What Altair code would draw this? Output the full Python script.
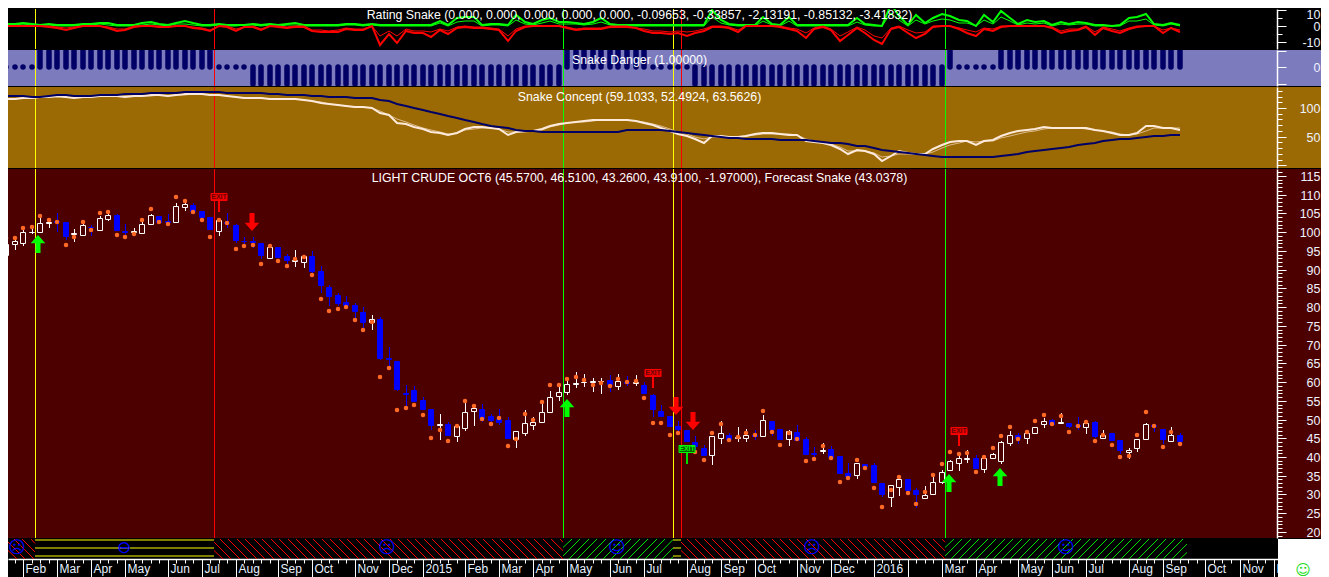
import json
import altair as alt
import pandas as pd

OPEN = [93.9,96.9,97.2,100.0,100.1,102.4,102.9,102.6,99.5,99.3,
101.5,100.7,103.6,104.7,100.3,100.0,99.9,102.2,104.2,102.9,
102.8,106.8,107.3,105.6,104.1,100.4,102.7,101.9,97.7,97.7,
97.1,93.2,96.0,93.6,92.3,92.1,93.6,89.6,85.4,83.2,
81.4,80.7,78.7,76.1,76.8,66.3,65.6,57.0,57.8,55.2,
52.8,48.5,48.7,45.5,47.7,52.4,52.8,50.9,50.1,49.8,
44.9,46.5,48.6,49.4,52.0,56.3,57.4,59.4,59.9,60.1,
60.2,60.5,59.0,60.0,59.7,59.2,56.5,52.3,50.9,48.2,
47.1,43.9,42.3,40.6,45.2,46.0,45.2,45.2,45.8,45.7,
49.6,47.4,44.9,46.6,44.8,41.0,41.7,42.1,40.2,35.7,
35.1,38.0,37.9,33.1,29.4,32.1,34.1,31.1,29.1,30.0,
33.2,36.4,38.5,39.5,39.7,36.9,39.8,39.0,43.8,46.0,
45.2,46.5,48.7,49.9,49.1,49.0,48.5,47.9,49.3,45.1,
46.3,44.5,41.3,42.3,44.9,48.5,47.5,44.4,45.9]
CLOSE = [96.8,97.6,100.0,100.1,102.4,102.6,102.7,99.0,99.7,101.8,
101.3,103.9,104.5,100.6,100.1,100.2,102.1,104.5,102.8,102.7,
106.9,107.4,105.7,104.1,100.8,103.2,102.5,98.0,97.6,97.5,
94.0,96.0,93.4,92.6,92.5,93.6,89.6,86.0,83.0,81.2,
80.6,79.1,76.0,76.7,66.4,66.1,58.2,56.7,55.0,52.9,
48.6,48.7,45.9,48.4,51.9,53.0,50.4,49.8,49.4,45.1,
46.9,49.0,49.3,51.9,55.9,57.3,59.4,59.7,60.0,60.3,
60.4,59.4,60.2,59.8,59.9,57.1,52.9,50.9,48.3,47.6,
44.3,42.9,40.6,45.5,46.3,44.9,45.3,45.8,45.6,50.0,
47.6,44.9,46.9,44.5,40.8,40.8,41.9,40.1,35.8,34.9,
38.3,37.5,33.3,30.0,32.4,34.1,31.2,30.0,29.8,33.2,
36.1,38.9,39.6,39.7,37.0,39.8,40.7,43.9,46.0,45.0,
46.3,48.0,49.5,48.8,49.3,48.3,48.2,49.1,45.6,46.0,
44.5,41.9,42.0,44.7,48.7,48.2,44.9,46.0,44.4]
HIGH = [96.8,98.1,100.5,101.2,103.9,103.4,105.1,102.6,100.9,102.8,
101.8,104.3,104.9,104.8,102.1,101.2,102.8,104.9,104.3,104.8,
107.7,107.7,107.8,105.6,104.1,103.6,105.1,102.1,98.7,98.7,
97.1,96.3,96.0,94.1,95.2,93.6,95.0,90.9,85.8,83.9,
83.0,81.1,80.1,77.9,77.4,69.4,65.6,59.2,59.0,56.0,
52.8,51.6,49.3,48.4,54.5,54.1,54.1,51.4,52.8,50.8,
46.9,52.5,50.7,54.6,57.6,58.8,60.7,62.7,62.2,61.1,
61.1,61.9,62.1,61.5,61.9,59.9,56.9,53.8,50.9,49.6,
47.1,45.6,43.2,45.5,49.6,46.5,48.0,47.4,47.3,51.2,
49.6,47.4,47.3,48.5,45.3,42.7,43.7,42.9,40.2,38.4,
38.3,38.0,38.5,33.1,32.4,34.5,34.1,31.6,32.3,34.8,
36.4,39.1,41.4,42.0,40.5,40.0,41.1,44.3,46.9,46.4,
46.9,48.0,50.3,50.2,51.7,49.0,50.7,50.0,49.5,47.1,
46.3,44.5,42.3,44.9,49.0,48.6,47.5,48.0,46.5]
LOW = [93.6,95.3,96.4,99.4,99.9,101.2,100.1,97.8,97.5,99.0,
99.0,100.3,103.0,100.3,98.3,99.4,99.9,101.9,102.5,102.1,
102.8,105.6,105.6,103.9,100.8,99.0,101.2,97.2,96.6,95.7,
92.8,93.2,93.0,91.1,90.7,90.5,88.8,83.9,80.3,80.3,
80.1,77.0,74.3,74.0,65.9,63.9,57.6,53.6,54.8,52.5,
47.2,44.5,45.6,44.0,47.0,48.3,49.4,49.2,48.5,45.1,
42.4,45.6,47.2,49.4,51.7,55.0,56.6,58.4,58.7,57.4,
56.9,57.4,57.9,59.0,59.0,56.9,50.8,50.8,48.3,45.9,
44.1,41.6,40.4,37.9,43.6,44.8,44.1,44.1,44.5,45.7,
45.6,44.9,42.9,44.5,40.8,39.6,40.9,39.8,35.8,34.7,
34.1,37.1,33.0,29.4,26.7,29.6,31.2,26.5,29.1,30.0,
32.7,36.3,36.3,38.5,37.0,35.6,39.8,38.2,43.0,43.6,
43.6,46.5,47.8,48.5,49.0,47.8,47.1,46.2,45.2,44.9,
44.5,40.9,39.4,41.4,44.9,46.8,43.4,44.4,44.4]
FORECAST = [98.4,98.4,101.2,101.5,104.2,103.2,102.8,96.5,98.7,102.8,
100.5,105.2,105.5,99.2,98.6,99.4,103.3,106.1,102.8,102.3,
109.3,108.2,105.3,103.2,98.6,103.3,102.5,95.4,96.3,96.6,
91.4,96.2,92.2,90.9,92.8,93.5,88.5,82.3,78.9,79.4,
80.0,76.5,73.8,76.0,61.3,63.7,52.6,53.2,53.8,51.3,
45.0,47.1,44.2,48.2,54.9,53.5,50.2,48.7,50.5,42.9,
44.7,51.6,50.0,54.6,59.1,59.1,60.7,61.4,60.5,59.1,
59.7,58.9,60.7,59.9,60.2,55.7,49.1,49.1,46.0,46.3,
42.0,41.3,39.1,46.3,48.8,44.5,45.4,46.4,45.8,52.4,
46.7,43.1,46.3,44.7,38.9,39.4,42.9,39.8,33.2,34.3,
39.1,37.1,31.6,26.6,31.1,34.7,30.3,27.4,30.7,35.3,
38.2,41.3,40.7,41.0,35.9,39.9,42.3,45.5,48.0,44.7,
46.6,49.5,51.1,48.7,50.9,46.6,48.3,49.3,44.2,45.8,
43.1,39.9,40.4,45.8,51.9,48.3,42.6,46.6,43.4]

GREEN_MAIN = [1.0,1.5,2.1,1.5,0.6,1.0,0.6,0.4,0.6,1.0,
1.5,2.1,1.7,0.4,0.6,0.6,1.7,2.3,1.0,0.6,
2.1,2.9,1.7,0.6,0.6,1.5,0.6,0.6,0.8,1.0,
0.6,1.5,0.6,1.0,1.7,0.6,0.6,0.6,0.6,0.6,
1.0,1.2,0.6,1.5,0.6,0.6,0.6,0.6,0.6,0.6,
0.6,3.0,0.6,5.2,5.6,5.8,0.6,1.5,1.5,0.6,
6.9,2.7,1.0,3.5,5.2,2.7,2.7,2.1,1.0,2.7,
4.8,1.0,0.6,0.4,0.4,0.4,0.4,0.4,0.4,0.4,
0.4,0.4,0.4,9.8,3.5,1.5,0.6,0.6,0.6,5.6,
1.0,0.6,5.6,0.6,0.6,0.4,0.4,0.4,0.4,0.6,
4.8,1.5,0.6,0.0,13.5,6.2,0.6,6.9,2.1,5.2,
7.7,6.2,3.5,3.1,0.0,6.9,2.7,9.4,5.2,1.0,
3.5,2.7,3.1,0.6,2.7,1.5,2.3,1.9,0.6,0.6,
0.0,0.6,5.2,5.8,7.3,1.5,0.6,2.1,0.6]
RED_MAIN = [-0.2,-0.2,-0.2,-0.2,-0.2,-0.4,-1.0,-2.5,-1.0,-0.2,
-0.2,-0.2,-1.5,-3.0,-2.7,-0.6,-0.2,-0.2,-0.6,-0.6,
-0.2,-0.2,-1.0,-1.7,-3.0,-0.2,-0.6,-3.0,-0.6,-0.4,
-2.5,-0.2,-0.6,-1.5,-0.4,-0.4,-3.0,-3.8,-3.8,-3.5,
-2.1,-2.7,-2.7,-0.2,-12.0,-4.8,-10.8,-3.0,-4.2,-4.6,
-6.7,-2.7,-5.2,-1.0,-0.6,-1.0,-1.0,-2.1,-2.5,-9.4,
-3.1,-0.6,0,0,0,0,-1.0,-2.7,-2.1,-2.1,
-1.7,-0.6,-0.4,-0.6,-1.5,-3.0,-4.6,-4.6,-5.2,-4.6,
-6.2,-4.2,-3.0,-0.6,-0.6,-1.0,-3.5,-0.2,-0.2,-0.2,
-0.2,-0.4,-2.1,-3.1,-7.3,-2.1,-0.6,-2.5,-9.4,-5.5,
-1.0,-4.5,-9.0,-11.5,-2.1,-0.6,-4.2,-7.3,-5.2,-0.6,
0,-0.2,-2.1,-4.2,-6.2,-2.1,-3.0,-0.6,0,-0.2,
-0.2,0.2,-0.2,-1.0,-4.6,-3.0,-2.7,-0.6,-5.8,-1.0,
-3.0,-4.6,-2.1,-0.6,-0.2,-0.2,-4.2,-1.5,-3.7]
RED_THIN = [-.1,-.1,-.1,-.1,-.1,-.2,-.5,-1.5,-.6,-.1,
-.1,-.1,-.9,-2.0,-1.8,-.3,-.1,-.1,-.3,-.4,
-.1,-.1,-.5,-1.1,-2.2,-.1,-.3,-2.0,-.4,-.2,
-1.6,-.1,-.3,-.9,-.2,-.2,-2.2,-2.8,-2.9,-2.6,
-1.5,-2,-1.9,-.1,-6.5,-3,-6,-2,-3,-3.2,
-4,-1.8,-3.2,-.6,-.3,-.5,-.6,-1.4,-1.6,-6.2,
-2,-.3,0,0,0,0,-.6,-1.8,-1.3,-1.4,
-1,-.3,-.2,-.3,-1,-2,-3.2,-3.3,-3.8,-3.2,
-4,-3,-2,-.3,-.3,-.5,-2.2,-.1,-.1,-.1,
-.1,-.2,-1.3,-2,-4.5,-1.3,-.3,-1.6,-6,-3.5,
-.6,-2.8,-6,-7.5,-1.4,-.3,-2.6,-4.5,-3.5,-.3,
0,-.1,-1.3,-2.6,-3.8,-1.3,-1.9,-.3,0,-.1,
-.1,0,-.1,-.6,-2.9,-2,-1.8,-.3,-3.6,-.6,
-2,-3,-1.3,-.3,-.1,-.1,-2.6,-1,-2.2]
GREEN_THIN = [.5,.8,1.1,.8,.3,.5,.3,.2,.3,.5,
.8,1.1,.9,.2,.3,.3,.9,1.2,.5,.3,
1.1,1.5,.9,.3,.3,.8,.3,.3,.4,.5,
.3,.8,.3,.5,.9,.3,.3,.3,.3,.3,
.5,.6,.3,.8,.3,.3,.3,.3,.3,.3,
.3,1.6,.3,2.8,3,3.2,.3,.8,.8,.3,
4,1.5,.5,2,3,1.5,1.5,1.1,.5,1.5,
2.8,.5,.3,.2,.2,.2,.2,.2,.2,.2,
.2,.2,.2,5.5,2,.8,.3,.3,.3,3.2,
.5,.3,3.2,.3,.3,.2,.2,.2,.2,.3,
2.8,.8,.3,0,8,3.5,.3,4,1.1,3,
4.5,3.5,2,1.8,0,4,1.5,5.5,3,.5,
2,1.5,1.8,.3,1.5,.8,1.3,1,.3,.3,
0,.3,3,3.4,4.3,.8,.3,1.1,.3]

DANGER = [0]*4 + [1]*21 + [0]*4 + [-1]*37 + [1]*10 + [0]*5 + [-1]*30 + [1] + [0]*5 + [1]*22

CONCEPT_FAST = [115.1,116.3,116.8,118.0,119.2,119.7,120.3,118.6,118.0,118.6,
119.2,120.9,121.5,120.9,119.7,120.3,120.9,122.1,122.1,121.5,
122.7,123.8,125.0,123.8,122.7,122.1,120.9,118.6,117.4,117.4,
116.8,116.3,115.1,115.7,115.7,113.9,111.6,108.7,106.4,104.6,
102.9,102.3,101.1,100.6,91.8,87.8,73.2,71.5,66.8,62.7,
58.1,55.8,52.9,56.3,62.7,66.8,66.2,65.6,62.7,52.3,
58.7,59.3,59.8,63.3,68.6,72.0,74.4,76.1,76.7,78.4,
79.0,79.0,79.0,79.0,76.7,73.8,69.7,65.6,59.8,54.0,
51.1,45.9,39.5,51.1,50.5,49.4,48.8,51.7,55.2,55.8,
55.8,54.6,52.9,52.3,41.8,40.6,38.9,35.4,27.8,20.3,
26.7,25.5,19.1,7.5,16.2,24.9,20.9,20.3,20.3,27.8,
35.4,40.0,42.4,42.4,35.4,42.4,43.5,51.7,56.9,59.3,
61.0,63.3,66.8,65.6,64.5,64.5,64.5,64.5,61.0,59.3,
55.8,52.3,52.9,56.9,68.6,68.6,65.1,64.5,61.0]
CONCEPT_MID = [115.5,116,117,118,119,119.5,120,119.5,118.5,118.5,
119,120.5,121,121,120.5,120.3,120.7,121.5,122,121.7,
122.3,123.4,124.5,124,123,122.3,121.2,119.5,118,117.5,
117,116.5,115.6,115.7,115.8,114.5,112.5,110,107.5,105.5,
103.5,102.5,101.5,100.8,94,88,81.4,75,70.9,65.6,
61,58,54,55.8,61,63.9,65,65,63.9,58,
57.5,58,59.3,62.2,66.2,70.3,73.2,75,76.1,77.9,
78.4,79,79,78.4,77.9,75.5,72,68.6,63.3,58,
54.6,49.4,45.9,49.4,50,50,49.4,51.1,53.4,54.6,
55.2,54.6,54,52.9,46.5,43,40,37.7,31.9,24.9,
25.5,25.5,22,14.5,15.6,19.1,19.7,20.3,20.3,23.8,
29.6,35.4,39.5,41.8,41.2,41.8,42.4,47,51.7,55.2,
57.5,59.8,63.3,64.5,64.5,64.5,64.5,63.9,62.2,59.8,
57.5,54.6,53.4,55.2,59.8,65.1,65.6,65.6,64.5]
CONCEPT_SLOW = [120.9,120.9,120.3,119.7,119.7,121.5,122.7,122.1,121.5,121.5,
121.5,122.1,122.7,123.2,123.8,124.4,125.0,125.6,126.2,126.7,
126.7,127.3,128.5,128.5,127.3,127.3,126.7,126.7,126.7,126.7,
126.2,125.0,123.8,123.2,122.7,122.7,121.5,120.3,119.7,119.2,
118.6,118.0,117.4,116.8,114.5,112.2,107.5,104.0,100.6,97.1,
93.0,88.9,85.4,81.9,79.6,76.1,72.6,68.6,66.2,64.5,
62.2,59.8,59.3,58.7,58.7,58.7,58.7,58.7,58.7,58.7,
58.7,58.7,58.7,61.0,62.2,62.2,62.2,61.6,60.4,58.7,
56.9,54.0,52.3,50.5,49.4,48.2,47.0,46.5,45.9,45.3,
45.3,44.7,44.7,44.7,44.1,42.4,40.6,39.5,38.3,36.6,
34.2,33.1,30.2,27.3,24.4,22.6,20.9,19.1,17.4,15.6,
15,15,15,15,15,15,15,15.6,18.0,20.3,
22.6,24.4,26.7,28.4,30.7,32.5,34.8,36.6,38.9,41.8,
44.1,45.9,46.5,47.0,48.8,50.5,51.7,52.9,53.4]

TITLE_RATING = "Rating Snake (0.000, 0.000, 0.000, 0.000, 0.000, -0.09653, -0.33857, -2.13191, -0.85132, -3.41832)"
TITLE_DANGER = "Snake Danger (1.00000)"
TITLE_CONCEPT = "Snake Concept (59.1033, 52.4924, 63.5626)"
TITLE_PRICE = "LIGHT CRUDE OCT6 (45.5700, 46.5100, 43.2600, 43.9100, -1.97000), Forecast Snake (43.0378)"

VLINE_X = [3.409, 24.451, 65.476, 78.407, 79.347, 110.381]
VLINE_COLOR = ["#ffff00", "#ff0000", "#00ff00", "#ffff00", "#ff0000", "#00ff00"]

UP_ARROW_X = [3.8, 65.9, 110.8, 116.9]
UP_ARROW_Y = [96.9, 53.1, 33.1, 34.7]
DOWN_ARROW_X = [28.9, 78.8, 80.8]
DOWN_ARROW_Y = [102.8, 53.6, 49.6]

EXIT_X = [25, 76, 112, 80]
EXIT_Y = [109.4, 62.5, 46.9, 42.2]
EXIT_STEM_TOP = [108.6, 61.6, 46.1, 41.3]
EXIT_STEM_BOTTOM = [105.4, 58.4, 42.9, 38.1]
EXIT_STEM_COLOR = ["#ff0000", "#ff0000", "#ff0000", "#00dd00"]
EXIT_FILL = ["#ee0000", "#ee0000", "#ee0000", "#0b5a00"]
EXIT_STROKE = ["#ff0000", "#ff0000", "#ff0000", "#00ff00"]
EXIT_TEXT = ["#6a0000", "#6a0000", "#6a0000", "#00ff00"]

MONTH_TICKS = [2,6,10,14,19,23,27,32,36,41,45,49,54,58,62,66,71,75,80,84,88,93,97,102,106,110,114,119,123,127,132,136,141,145,149]
MONTH_LABELS = ["Feb","Mar","Apr","May","Jun","Jul","Aug","Sep","Oct","Nov","Dec","2015","Feb","Mar","Apr","May","Jun","Jul","Aug","Sep","Oct","Nov","Dec","2016","","Mar","Apr","May","Jun","Jul","Aug","Sep","Oct","Nov","D"]

# state ribbon along the bottom: (from bar, to bar, kind)
RIBBON = [(0.235,3.409,"red"),(3.409,24.451,"flat"),(24.451,65.476,"red"),(65.476,78.407,"green"),(78.407,79.347,"flat"),(79.347,110.381,"red"),(110.381,138.8,"green")]
FACE_X = [1.3, 13.9, 44.8, 71.8, 94.7, 124.6]
FACE_GLYPH = ["☹", "⊖", "☹", "☺", "☹", "☺"]

FONT = "Liberation Sans"
XDOM = [0.235, 154.58]
W = 1313
XSCALE = alt.Scale(domain=XDOM, nice=False, zero=False, padding=0, round=True)
AX_X = alt.X("i:Q", scale=XSCALE, axis=None, title=None)
idx = list(range(len(OPEN)))


def yaxis(values, major_test, label_expr, **kw):
    return alt.Axis(
        values=values, orient="right", offset=-44, title=None, grid=False,
        domainColor="#ffffff", tickColor="#ffffff", domainWidth=1.5, tickWidth=1,
        tickSize={"condition": {"test": major_test, "value": 9}, "value": 5},
        labelExpr=label_expr, labelColor="#eef2ff", labelFont=FONT, labelFontSize=12.5,
        labelAlign="right", labelPadding=34, labelOverlap=False, labelBound=False, labelFlush=False,
        **kw)


def vlines():
    d = pd.DataFrame({"i": VLINE_X, "c": VLINE_COLOR})
    return alt.Chart(d).mark_rule(strokeWidth=1, xOffset=0.5).encode(x=AX_X, color=alt.Color("c:N", scale=None))


def title_mark(text, y):
    d = pd.DataFrame({"t": [text]})
    return alt.Chart(d).mark_text(font=FONT, fontSize=12.35, color="#ffffff", align="center", baseline="middle").encode(
        text="t:N", x=alt.value(631.5), y=alt.value(y))


# ---- pane 1: Rating Snake
Y1 = alt.Scale(domain=[-14.375, 10.625], nice=False, zero=False, round=True)
ax1 = yaxis([-10, -5, 0, 5, 10], "datum.value % 10 === 0", "datum.value % 10 === 0 ? datum.value : ''",
            labelBaseline={"condition": {"test": "datum.value === 10", "value": "top"}, "value": "middle"},
            labelOffset={"condition": {"test": "datum.value === 10", "value": -2}, "value": 0})
d1 = pd.DataFrame({"i": idx, "gm": GREEN_MAIN, "rm": RED_MAIN, "gt": GREEN_THIN, "rt": RED_THIN})


def rating_line(field, color, sw):
    return alt.Chart(d1).mark_line(color=color, strokeWidth=sw, clip=True).encode(
        x=AX_X, y=alt.Y(f"{field}:Q", scale=Y1, axis=ax1, title=None))


pane1 = alt.layer(
    vlines(),
    rating_line("gt", "#00ff00", 1), rating_line("gm", "#00ff00", 2),
    rating_line("rt", "#ff0000", 1), rating_line("rm", "#ff0000", 2),
    title_mark(TITLE_RATING, 6),
).properties(width=W, height=40, view=alt.ViewBackground(fill="#000000", strokeWidth=0))

# ---- pane 2: Snake Danger
Y2 = alt.Scale(domain=[-1.121, 1.06], nice=False, zero=False, round=True)
ax2 = yaxis([-1, 0, 1], "true", "datum.value === 0 ? '0' : ''")
d2 = pd.DataFrame({"i": idx, "v": DANGER, "base": [0] * len(DANGER)})
pane2 = alt.layer(
    alt.Chart(d2).mark_rule(color="#000066", strokeWidth=5.5, strokeCap="round", clip=True).encode(
        x=AX_X, y=alt.Y("base:Q", scale=Y2, axis=ax2, title=None), y2="v:Q"),
    vlines(),
    title_mark(TITLE_DANGER, 10),
).properties(width=W, height=36, view=alt.ViewBackground(fill="#7b7bbd", strokeWidth=0))

# ---- pane 3: Snake Concept
Y3 = alt.Scale(domain=[-4.7, 136.6], nice=False, zero=False, round=True)
ax3 = yaxis(list(range(0, 131, 10)), "datum.value % 50 === 0", "datum.value === 50 || datum.value === 100 ? datum.value : ''")
d3 = pd.DataFrame({"i": idx, "f": CONCEPT_FAST, "m": CONCEPT_MID, "s": CONCEPT_SLOW})


def concept_line(field, color, sw):
    return alt.Chart(d3).mark_line(color=color, strokeWidth=sw, clip=True).encode(
        x=AX_X, y=alt.Y(f"{field}:Q", scale=Y3, axis=ax3, title=None))


pane3 = alt.layer(
    vlines(),
    concept_line("m", "#dcb98c", 1), concept_line("f", "#fdeadb", 2), concept_line("s", "#000066", 2),
    title_mark(TITLE_CONCEPT, 10),
).properties(width=W, height=81, view=alt.ViewBackground(fill="#9c6a04", strokeWidth=0))

# ---- pane 4: price
Y4 = alt.Scale(domain=[18.38, 116.87], nice=False, zero=False, round=True)
ax4 = yaxis(list(range(19, 117)), "datum.value % 5 === 0", "datum.value % 5 === 0 ? datum.value : ''")
BG4 = "#4d0000"
d4 = pd.DataFrame({"i": idx, "o": OPEN, "h": HIGH, "l": LOW, "c": CLOSE, "f": FORECAST})
d4["top"] = d4[["o", "c"]].max(axis=1)
d4["bot"] = d4[["o", "c"]].min(axis=1)
d4["wick"] = ["#ffffff" if c >= o else "#0000ff" for o, c in zip(OPEN, CLOSE)]
dup_bars = d4[d4["c"] >= d4["o"]]
ddn_bars = d4[d4["c"] < d4["o"]]


def py(field):
    return alt.Y(f"{field}:Q", scale=Y4, axis=ax4, title=None)


UP_PATH = "M0,-1L.81,-.07L.28,-.07L.28,1L-.28,1L-.28,-.07L-.81,-.07Z"
DOWN_PATH = "M0,1L.81,.07L.28,.07L.28,-1L-.28,-1L-.28,.07L-.81,.07Z"
BOX_PATH = "M-1,-.44L1,-.44L1,.44L-1,.44Z"
dup = pd.DataFrame({"i": UP_ARROW_X, "y": UP_ARROW_Y})
ddn = pd.DataFrame({"i": DOWN_ARROW_X, "y": DOWN_ARROW_Y})
dex = pd.DataFrame({"i": EXIT_X, "y": EXIT_Y, "t": EXIT_STEM_TOP, "b": EXIT_STEM_BOTTOM, "sc": EXIT_STEM_COLOR,
                    "fc": EXIT_FILL, "ec": EXIT_STROKE, "tc": EXIT_TEXT, "label": ["EXIT"] * 4})

pane4 = alt.layer(
    vlines(),
    alt.Chart(d4).mark_rule(strokeWidth=1, xOffset=0.5, clip=True).encode(
        x=AX_X, y=py("h"), y2="l:Q", color=alt.Color("wick:N", scale=None)),
    alt.Chart(dup_bars).mark_bar(size=5, strokeWidth=1, fill=BG4, stroke="#ffffff", yOffset=0.5, y2Offset=0.5, clip=True).encode(
        x=AX_X, y=py("top"), y2="bot:Q"),
    alt.Chart(ddn_bars).mark_bar(size=5, strokeWidth=1, fill="#0000ff", stroke="#0000ff", yOffset=0.5, y2Offset=0.5, clip=True).encode(
        x=AX_X, y=py("top"), y2="bot:Q"),
    alt.Chart(d4).mark_point(shape="circle", filled=True, size=20, color="#ff6a26", opacity=1, strokeWidth=0, clip=True).encode(
        x=AX_X, y=py("f")),
    alt.Chart(dup).mark_point(shape=UP_PATH, filled=True, size=324, color="#00ff00", opacity=1, strokeWidth=0).encode(
        x=AX_X, y=py("y")),
    alt.Chart(ddn).mark_point(shape=DOWN_PATH, filled=True, size=324, color="#ff0000", opacity=1, strokeWidth=0).encode(
        x=AX_X, y=py("y")),
    alt.Chart(dex).mark_rule(strokeWidth=2).encode(
        x=AX_X, y=py("t"), y2="b:Q", color=alt.Color("sc:N", scale=None)),
    alt.Chart(dex).mark_point(shape=BOX_PATH, filled=True, size=256, opacity=1, strokeWidth=1).encode(
        x=AX_X, y=py("y"), fill=alt.Fill("fc:N", scale=None), stroke=alt.Stroke("ec:N", scale=None)),
    alt.Chart(dex).mark_text(font=FONT, fontSize=7, fontWeight="bold").encode(
        x=AX_X, y=py("y"), text="label:N", color=alt.Color("tc:N", scale=None)),
    title_mark(TITLE_PRICE, 9),
).properties(width=W, height=369, view=alt.ViewBackground(fill=BG4, strokeWidth=0))

# ---- bottom strip: state ribbon and the month axis
Y5 = alt.Scale(domain=[39, 0], nice=False, zero=False)
H = 20.0      # ribbon depth on the strip's own scale
DX = 2.35     # bars crossed by one hatch stroke
rows = []
seg = 0
for a, b, kind in RIBBON:
    if kind == "flat":
        for lvl in (1, 9, 17):
            rows += [dict(i=a, y=lvl, seg=seg, c="#ffff00"), dict(i=b, y=lvl, seg=seg, c="#ffff00")]
            seg += 1
        continue
    s = a - DX
    while s < b:
        t0 = max(0.0, (a - s) / DX)
        t1 = min(1.0, (b - s) / DX)
        if t1 > t0:
            for t in (t0, t1):
                yy = H * t if kind == "red" else H * (1 - t)
                rows.append(dict(i=s + DX * t, y=yy, seg=seg, c="#ff0000" if kind == "red" else "#00e000"))
            seg += 1
        s += 1.0
d5 = pd.DataFrame(rows)
lookup = json.dumps({str(k): v for k, v in zip(MONTH_TICKS, MONTH_LABELS)})
major = json.dumps(MONTH_TICKS)
x_axis = alt.Axis(
    values=list(range(1, 155)), orient="bottom", offset=-19, title=None, grid=False,
    domainColor="#ffffff", tickColor="#ffffff", domainWidth=1.5, tickWidth=1,
    tickSize={"condition": {"test": f"indexof({major}, datum.value) >= 0", "value": 19}, "value": 4},
    labelExpr=f"{lookup}[datum.value + ''] || ''",
    labelColor="#e6f0ff", labelFont=FONT, labelFontSize=12, labelAlign="left", labelBaseline="top",
    labelPadding=-15, labelOffset=2, labelOverlap=False, labelBound=False, labelFlush=False)
X5 = alt.X("i:Q", scale=XSCALE, axis=x_axis, title=None)
Y5E = lambda f: alt.Y(f"{f}:Q", scale=Y5, axis=None, title=None)
dface = pd.DataFrame({"i": FACE_X, "g": FACE_GLYPH, "y": [9] * len(FACE_X)})
dbox = pd.DataFrame({"i": [149.52], "i2": [XDOM[1]], "y": [0], "y2": [39]})
dsmile = pd.DataFrame({"i": [152.46], "y": [31], "g": ["☺"]})
pane5 = alt.layer(
    alt.Chart(d5).mark_line(strokeWidth=1, clip=True).encode(
        x=X5, y=Y5E("y"), detail="seg:N", color=alt.Color("c:N", scale=None)),
    alt.Chart(dface).mark_text(font="DejaVu Sans", fontSize=17, color="#0000ff").encode(x=X5, y=Y5E("y"), text="g:N"),
    alt.Chart(dbox).mark_rect(color="#ffffff", clip=True).encode(x=X5, x2="i2:Q", y=Y5E("y"), y2="y2:Q"),
    alt.Chart(dsmile).mark_text(font="DejaVu Sans", fontSize=15, color="#22dd22").encode(x=X5, y=Y5E("y"), text="g:N"),
).properties(width=W, height=39, view=alt.ViewBackground(fill="#000000", strokeWidth=0))

chart = alt.vconcat(pane1, pane2, pane3, pane4, pane5, spacing=1, bounds="flush", padding=0, background="#000000").configure_view(strokeWidth=0)
chart.save("out.html", embed_options={"renderer": "svg", "actions": False})
